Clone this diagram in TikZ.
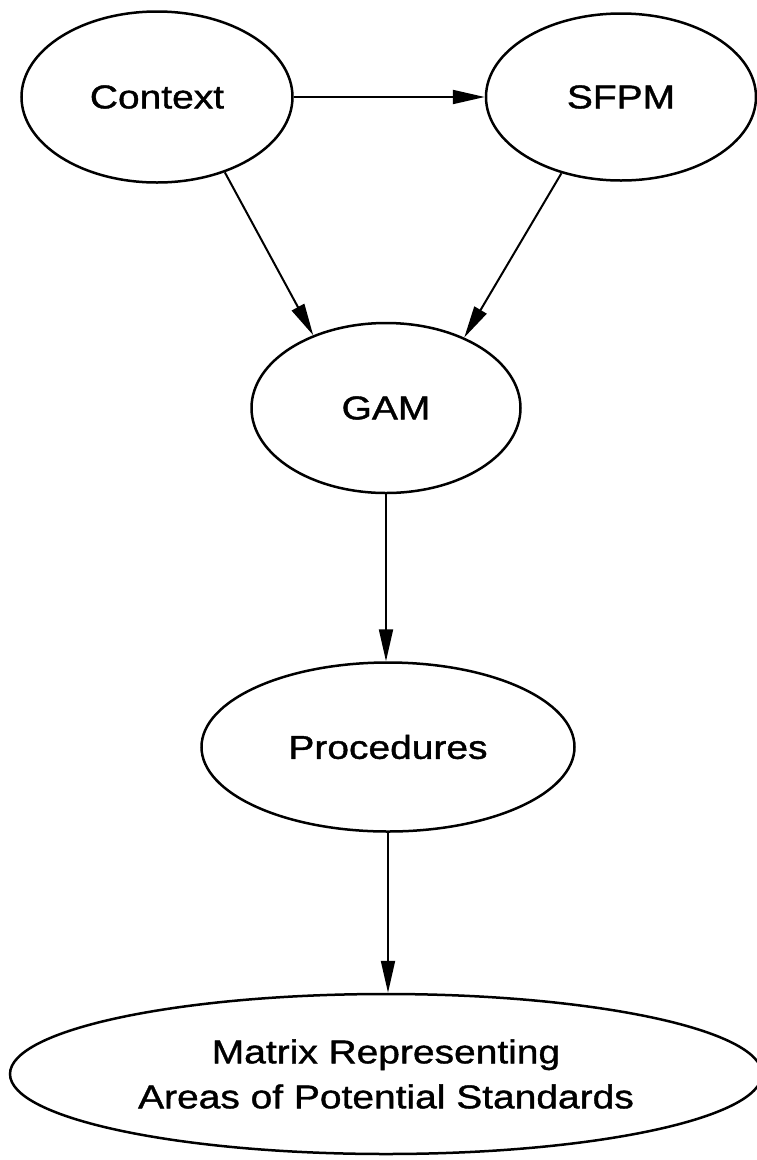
\documentclass[tikz,border=0pt]{standalone}
\usepackage{fontspec}
\newfontfamily\lblfont{Liberation Sans}[FakeStretch=1.18,FakeBold=1.2]
\usetikzlibrary{shapes.geometric,arrows.meta}
\begin{document}
\begin{tikzpicture}[x=1pt,y=-1pt,
  bubble/.style={ellipse, draw, line width=2.5pt, inner sep=0pt, align=center,
    font=\lblfont\fontsize{33}{45}\selectfont},
  link/.style={line width=2pt, -{Triangle[length=32pt,width=14pt]}}]
\useasboundingbox (0,0) rectangle (757,1160);

% nodes
\node[bubble, minimum width=271pt, minimum height=171pt] (ctx)  at (157,97)   {Context};
\node[bubble, minimum width=270pt, minimum height=167pt] (sfpm) at (621,97)   {SFPM};
\node[bubble, minimum width=269pt, minimum height=170pt] (gam)  at (386,408)  {GAM};
\node[bubble, minimum width=373pt, minimum height=169pt] (proc) at (388,747)  {Procedures};
\node[bubble, minimum width=752pt, minimum height=160pt] (mat)  at (386,1074)
  {Matrix Representing\\Areas of Potential Standards};

% connectors
\draw[link] (ctx) -- (sfpm);
\draw[link] (ctx.-48.7) -- (gam.135);
\draw[link] (sfpm.232.8) -- (gam.42);
\draw[link] (gam.south) -- (gam.south |- proc.north);
\draw[link] (proc.south) -- (proc.south |- mat.north);
\end{tikzpicture}
\end{document}
